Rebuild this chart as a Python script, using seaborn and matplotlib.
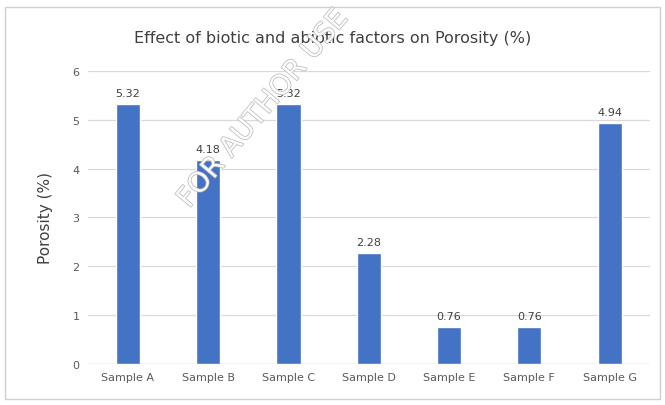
import matplotlib
matplotlib.use("Agg")
import matplotlib.pyplot as plt
import seaborn as sns
import pandas as pd
from matplotlib.patches import Rectangle

categories = ["Sample A", "Sample B", "Sample C", "Sample D", "Sample E", "Sample F", "Sample G"]
porosity = [5.32, 4.18, 5.32, 2.28, 0.76, 0.76, 4.94]
yticks = [0, 1, 2, 3, 4, 5, 6]

df = pd.DataFrame({"Sample": categories, "Porosity": porosity})

sns.set_theme(style="white")
plt.rcParams['font.family'] = ['DejaVu Sans']

fig = plt.figure(figsize=(6.65, 4.06), dpi=100)
fig.patches.append(Rectangle((0.008, 0.015), 0.984, 0.965, transform=fig.transFigure,
                             fill=False, edgecolor="#d0d0d0", linewidth=1.0))
ax = fig.add_axes([0.132, 0.101, 0.845, 0.722])

sns.barplot(data=df, x="Sample", y="Porosity", color="#4472C4", width=0.3,
            saturation=1, ax=ax, zorder=3)

ax.set_ylim(0, 6)
ax.set_xlim(-0.5, 6.5)
ax.set_yticks(yticks)
ax.set_yticklabels([str(t) for t in yticks])
ax.yaxis.grid(True, color="#d9d9d9", linewidth=0.9, zorder=0)
ax.set_axisbelow(True)
for s in ["top", "right", "left", "bottom"]:
    ax.spines[s].set_visible(False)
ax.axhline(0, color="#d9d9d9", linewidth=1.0, zorder=2)

ax.tick_params(axis="both", length=0, labelsize=8, labelcolor="#595959", pad=6)
ax.set_xlabel("")
ax.set_ylabel("Porosity (%)", fontsize=11, color="#404040", labelpad=14)

for i, v in enumerate(porosity):
    ax.text(i, v + 0.12, f"{v:.2f}", ha="center", va="bottom", fontsize=8, color="#404040")

fig.text(0.5, 0.905, "Effect of biotic and abiotic factors on Porosity (%)",
         ha="center", va="center", fontsize=11.5, color="#404040")

fig.text(0.395, 0.73, "FOR AUTHOR USE", rotation=50, ha="center", va="center",
         fontsize=20, color="none", zorder=10,
         path_effects=[])
import matplotlib.patheffects as pe
wm = fig.texts[-1]
wm.set_color("white")
wm.set_path_effects([pe.withStroke(linewidth=1.0, foreground="#b0b0b0")])
wm.set_alpha(0.9)

fig.savefig("out.png", dpi=100)
